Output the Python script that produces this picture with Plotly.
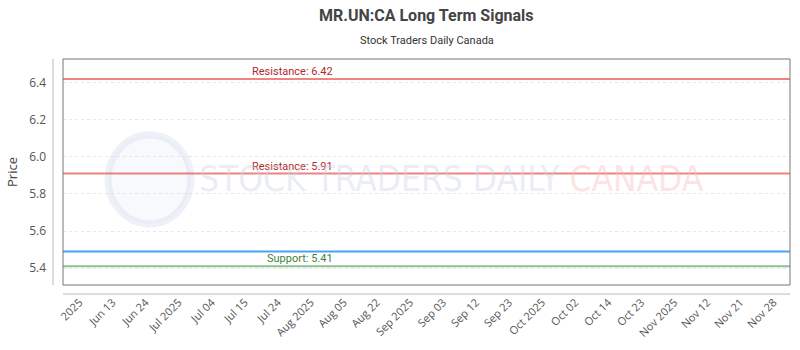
import plotly.graph_objects as go

dates = ["2025", "Jun 13", "Jun 24", "Jul 2025", "Jul 04", "Jul 15", "Jul 24", "Aug 2025",
         "Aug 05", "Aug 22", "Sep 2025", "Sep 03", "Sep 12", "Sep 23", "Oct 2025", "Oct 02",
         "Oct 14", "Oct 23", "Nov 2025", "Nov 12", "Nov 21", "Nov 28"]
price = [5.49] * len(dates)
resistance_levels = [6.42, 5.91]
support_levels = [5.41]

fig = go.Figure()
# invisible trace to establish the category axis
fig.add_trace(go.Scatter(x=dates, y=price, mode="lines",
                         line=dict(color="rgba(0,0,0,0)", width=0), hoverinfo="skip", showlegend=False))

shapes = []
annotations = []
# price line (flat over period)
shapes.append(dict(type="line", xref="paper", yref="y", x0=0, x1=1, y0=price[0], y1=price[-1],
                   line=dict(color="#4aa3f0", width=2), layer="above"))
for r in resistance_levels:
    shapes.append(dict(type="line", xref="paper", yref="y", x0=0, x1=1, y0=r, y1=r,
                       line=dict(color="rgba(232,90,90,0.75)", width=2), layer="above"))
    annotations.append(dict(xref="paper", yref="y", x=0.315, xanchor="center", y=r,
                            text=f"Resistance: {r:.2f}", showarrow=False, yanchor="bottom", yshift=-1,
                            font=dict(color="#b02a2a", size=11, family="Roboto")))
for s in support_levels:
    shapes.append(dict(type="line", xref="paper", yref="y", x0=0, x1=1, y0=s, y1=s,
                       line=dict(color="#8fc08f", width=2), layer="above"))
    annotations.append(dict(xref="paper", yref="y", x=0.326, xanchor="center", y=s,
                            text=f"Support: {s:.2f}", showarrow=False, yanchor="bottom", yshift=-1,
                            font=dict(color="#3f7f3f", size=11, family="Roboto")))

# plot border
shapes.append(dict(type="rect", xref="paper", yref="paper", x0=0, x1=1, y0=0, y1=1,
                   line=dict(color="#777", width=1), layer="above"))
# offset axis lines
shapes.append(dict(type="line", xref="paper", yref="paper", x0=-0.0138, x1=-0.0138, y0=0, y1=1,
                   line=dict(color="#bbb", width=1)))
shapes.append(dict(type="line", xref="paper", yref="paper", x0=0, x1=1, y0=-0.04, y1=-0.04,
                   line=dict(color="#bbb", width=1)))
# watermark logo circle
shapes.append(dict(type="circle", xref="paper", yref="paper", x0=0.062, x1=0.176, y0=0.27, y1=0.665,
                   line=dict(color="rgba(200,208,230,0.3)", width=7),
                   fillcolor="rgba(222,228,242,0.22)", layer="below"))

annotations.append(dict(xref="paper", yref="paper", x=0.535, y=0.47, xanchor="center", yanchor="middle",
                        showarrow=False,
                        text="<span style='color:rgba(200,208,228,0.4)'>STOCK TRADERS DAILY</span> "
                             "<span style='color:rgba(250,185,185,0.4)'>CANADA</span>",
                        font=dict(size=35, family="DejaVu Sans Condensed")))

# titles
annotations.append(dict(xref="paper", yref="paper", x=0.5, y=1, yshift=44, xanchor="center",
                        yanchor="middle", showarrow=False, text="<b>MR.UN:CA Long Term Signals</b>",
                        font=dict(size=16, color="#444", family="Roboto")))
annotations.append(dict(xref="paper", yref="paper", x=0.5, y=1, yshift=19, xanchor="center",
                        yanchor="middle", showarrow=False, text="Stock Traders Daily Canada",
                        font=dict(size=11, color="#333", family="Roboto")))

fig.update_layout(
    width=800, height=350,
    margin=dict(l=63, r=10, t=59, b=63),
    paper_bgcolor="white", plot_bgcolor="white",
    shapes=shapes, annotations=annotations,
    xaxis=dict(type="category", range=[-0.5, len(dates) - 0.5], tickangle=-45,
               showgrid=False, showline=False, ticks="", zeroline=False, ticklabelstandoff=8,
               tickfont=dict(size=11, color="#555", family="Open Sans")),
    yaxis=dict(range=[5.309, 6.528], tickvals=[5.4, 5.6, 5.8, 6.0, 6.2, 6.4],
               ticktext=["5.4", "5.6", "5.8", "6.0", "6.2", "6.4"],
               showgrid=True, gridcolor="#e6e6e6", griddash="dot", zeroline=False,
               ticks="", ticklabelstandoff=16,
               title=dict(text="Price", font=dict(size=13, color="#444", family="Open Sans"), standoff=8),
               tickfont=dict(size=12, color="#555", family="Open Sans")),
)

fig.write_html("out.html")
